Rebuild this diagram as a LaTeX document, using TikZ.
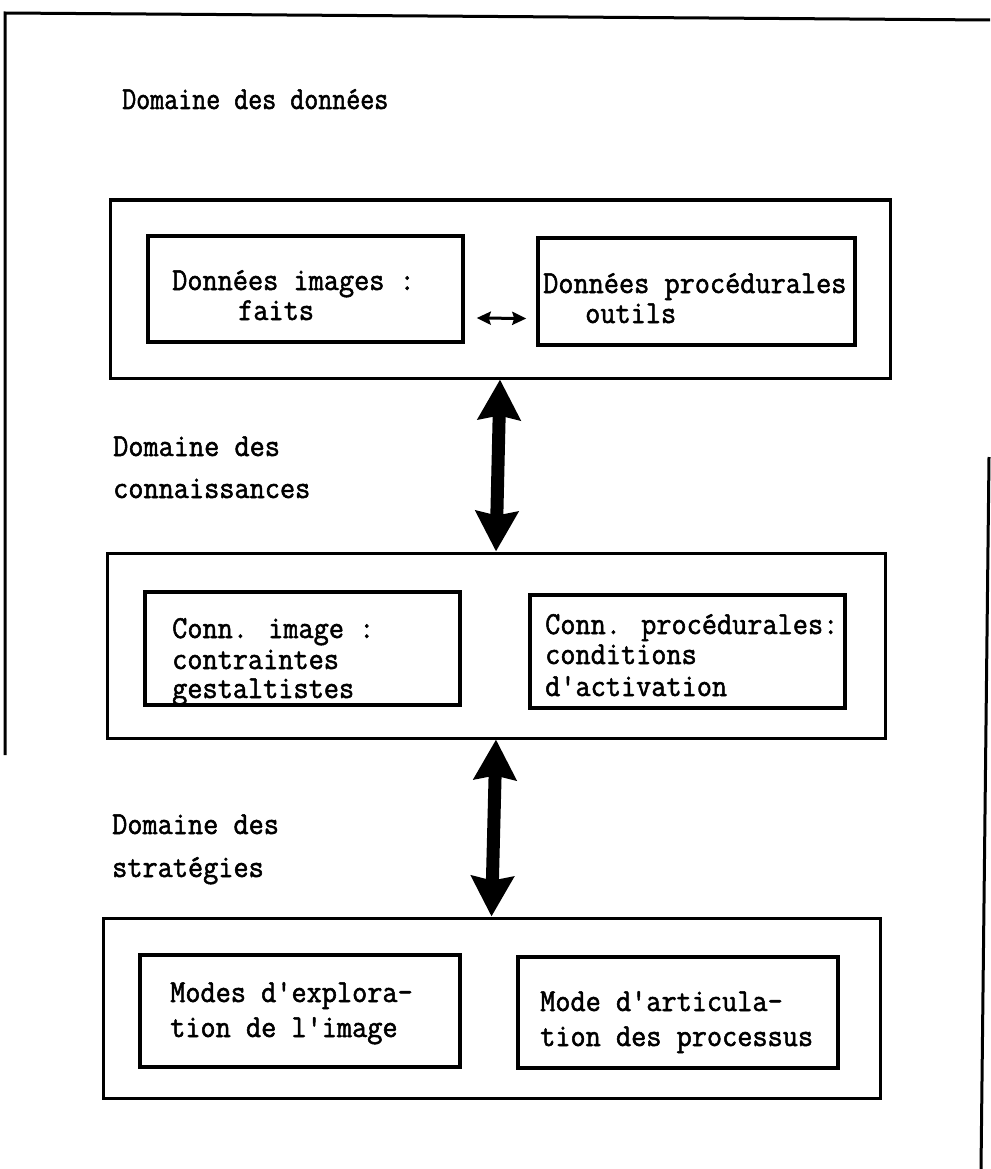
\documentclass[tikz,border=0pt]{standalone}
\usepackage{fontspec}
\usetikzlibrary{arrows.meta,calc}
\newfontfamily\mymono{Latin Modern Mono}[FakeStretch=0.92,FakeBold=1.6]
\newfontfamily\mytitlemono{Latin Modern Mono}[FakeStretch=0.85,FakeBold=1.6]
\begin{document}
\begin{tikzpicture}[x=1pt,y=-1pt,
  frame/.style={line width=3pt},
  outerbox/.style={draw,line width=3pt,inner sep=0pt},
  innerbox/.style={draw,line width=3.5pt,inner sep=0pt},
  txt/.style={anchor=base west,inner sep=0pt,text height=19pt,text depth=4pt,font=\mymono\fontsize{32}{36}\selectfont},
  bigarrow/.style={line width=13pt,{Stealth[width=42pt,length=40pt,inset=4pt]}-{Stealth[width=42pt,length=40pt,inset=4pt]}},
  smallarrow/.style={line width=3pt,{Stealth[width=13pt,length=14pt,inset=2pt]}-{Stealth[width=13pt,length=14pt,inset=2pt]}}
]
\useasboundingbox (0,0) rectangle (990,1169);
\fill[white] (0,0) rectangle (990,1169);
% frame
\draw[frame] (5,755) -- (5,13) -- (990,20);
\draw[frame] (989,457) -- (981,1169);
% boxes
\node[outerbox,minimum width=780pt,minimum height=178pt] (b1) at (500,289) {};
\node[innerbox,minimum width=315pt,minimum height=106pt] (d1) at (305.5,289) {};
\node[innerbox,minimum width=317pt,minimum height=107pt] (d2) at (696.5,291.5) {};
\node[outerbox,minimum width=778pt,minimum height=185pt] (b2) at (496,645.5) {};
\node[innerbox,minimum width=315pt,minimum height=113pt] (c1) at (302.5,648.5) {};
\node[innerbox,minimum width=315pt,minimum height=113pt] (c2) at (687.5,651.5) {};
\node[outerbox,minimum width=777pt,minimum height=180pt] (b3) at (491.5,1008) {};
\node[innerbox,minimum width=320pt,minimum height=112pt] (m1) at (300,1011) {};
\node[innerbox,minimum width=320pt,minimum height=111pt] (m2) at (678,1012.5) {};
% arrows
\draw[bigarrow] (b1.south) -- (b2.north);
\draw[bigarrow] (b2.south) -- (b3.north);
\draw[smallarrow] ($(d1.east)+(12,29)$) -- ($(d2.west)+(-10,27)$);
% texts
\node[txt,font=\mytitlemono\fontsize{32}{36}\selectfont] (t0) at (122,109) {Domaine des données};
\node[txt] (t1) at (172,290) {Données images :};
\node[txt] (t2) at (238,320) {faits};
\node[txt] (t3) at (543,293) {Données procédurales};
\node[txt] (t4) at (585,323) {outils};
\node[txt] (t5) at (113,456) {Domaine des};
\node[txt] (t6) at (113,498) {connaissances};
\node[txt] (t7) at (172,638) {Conn. image :};
\node[txt] (t8) at (172,669) {contraintes};
\node[txt] (t9) at (172,698) {gestaltistes};
\node[txt] (t10) at (545,634) {Conn. procédurales:};
\node[txt] (t11) at (545,664) {conditions};
\node[txt] (t12) at (545,696) {d'activation};
\node[txt] (t13) at (112,834) {Domaine des};
\node[txt] (t14) at (112,877) {stratégies};
\node[txt] (t15) at (170,1002) {Modes d'explora-};
\node[txt] (t16) at (170,1037) {tion de l'image};
\node[txt] (t17) at (540,1011) {Mode d'articula-};
\node[txt] (t18) at (540,1046) {tion des processus};
\end{tikzpicture}
\end{document}
